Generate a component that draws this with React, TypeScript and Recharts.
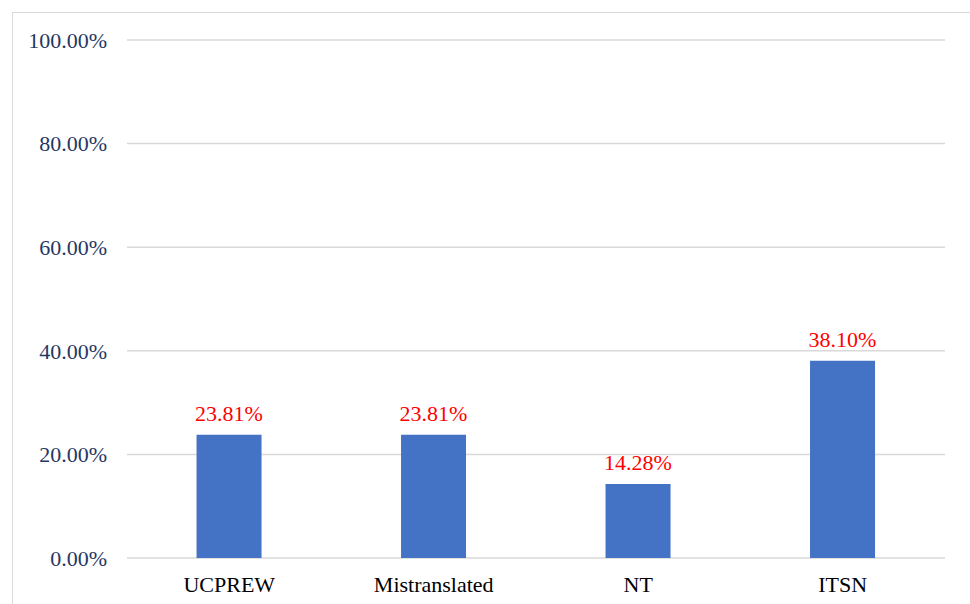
import { BarChart, Bar, XAxis, YAxis, CartesianGrid, LabelList } from 'recharts'

// error categories and their share of all cases (%)
const categories = ['UCPREW', 'Mistranslated', 'NT', 'ITSN']
const shares = [23.81, 23.81, 14.28, 38.1]
const yTicks = [0, 20, 40, 60, 80, 100]

const data = categories.map((name, i) => ({ name, share: shares[i] }))

const FONT = '"Liberation Serif", "Times New Roman", serif'

export default function App() {
  return (
    <div
      style={{
        position: 'absolute',
        left: 0,
        top: 0,
        width: 970,
        height: 604,
        overflow: 'hidden',
        background: '#fff',
      }}
    >
      {/* chart frame, runs off the right and bottom edges */}
      <div
        style={{
          position: 'absolute',
          left: 12,
          top: 12,
          width: 1000,
          height: 1000,
          border: '1px solid #d9d9d9',
        }}
      />
      <div style={{ position: 'absolute', left: 0, top: 0 }}>
        <BarChart
          width={970}
          height={604}
          data={data}
          margin={{ top: 40, right: 25, left: 12, bottom: 0 }}
          barCategoryGap="34%"
        >
          <CartesianGrid
            vertical={false}
            stroke="#d9d9d9"
            strokeWidth={1.5}
          />
          <XAxis
            dataKey="name"
            axisLine={false}
            tickLine={false}
            tickSize={6}
            tickMargin={12}
            tick={{ fontSize: 22, fill: '#000', fontFamily: FONT }}
            height={46}
          />
          <YAxis
            domain={[0, 100]}
            ticks={yTicks}
            width={115}
            axisLine={false}
            tickLine={false}
            tickSize={20}
            tickMargin={0}
            tickFormatter={(v: number) => v.toFixed(2) + '%'}
            tick={{ fontSize: 22, fill: '#1f3864', fontFamily: FONT }}
          />
          <Bar dataKey="share" fill="#4472c4" isAnimationActive={false}>
            <LabelList
              dataKey="share"
              position="top"
              offset={14}
              formatter={(v: number) => v.toFixed(2) + '%'}
              style={{ fontSize: 22, fill: '#ff0000', fontFamily: FONT }}
            />
          </Bar>
        </BarChart>
      </div>
    </div>
  )
}
